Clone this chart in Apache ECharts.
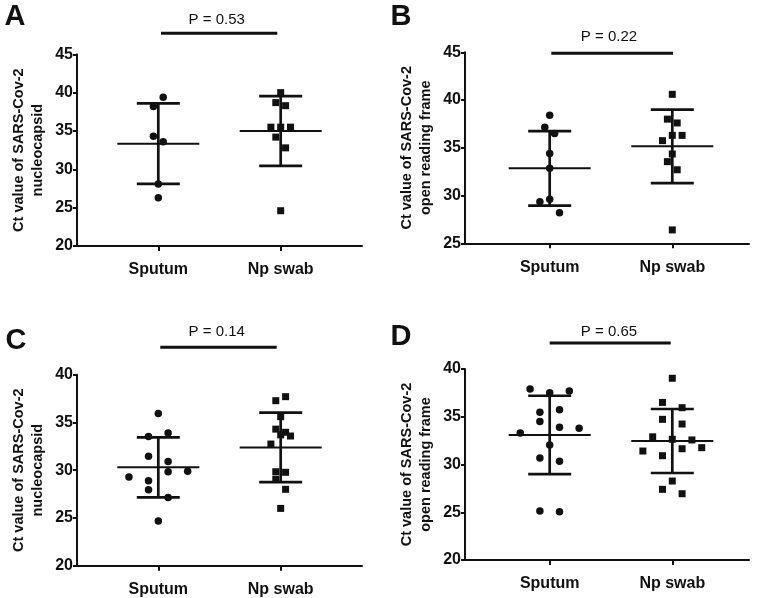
<!DOCTYPE html>
<html><head><meta charset="utf-8">
<script src="https://cdn.jsdelivr.net/npm/echarts@6/dist/echarts.min.js"></script>
<style>html,body{margin:0;padding:0;background:#fff}#c{width:758px;height:598px}</style>
</head><body><div id="c"></div>
<script>
// ---------- data ----------
const categories = ['Sputum', 'Np swab'];
const panelLetters = ['A', 'B', 'C', 'D'];
const pLabels = ['P = 0.53', 'P = 0.22', 'P = 0.14', 'P = 0.65'];
const yNames = [
  'Ct value of SARS-Cov-2\nnucleocapsid',
  'Ct value of SARS-Cov-2\nopen reading frame',
  'Ct value of SARS-Cov-2\nnucleocapsid',
  'Ct value of SARS-Cov-2\nopen reading frame'
];
const yMin = [20, 25, 20, 20];
const yMax = [45, 45, 40, 40];
const yInterval = 5;

// Panel A
const aSputum = [39.4, 38.2, 34.3, 33.6, 28.1, 26.3];
const aSputumCol = [1, -1, -1, 1, 0, 0];
const aNp = [40.0, 38.7, 38.3, 35.5, 35.5, 35.5, 34.2, 32.8, 24.6];
const aNpCol = [0, -1, 1, -2, 0, 2, -1, 1, 0];
const aMean = [33.35, 35.0];
const aSD = [5.25, 4.55];

// Panel B
const bSputum = [38.4, 37.15, 36.5, 34.4, 32.85, 29.6, 29.35, 28.2];
const bSputumCol = [0, -1, 1, 0, 0, 0, -2, 2];
const bNp = [40.6, 38.0, 37.6, 36.3, 36.3, 35.75, 34.35, 33.55, 32.7, 26.4];
const bNpCol = [0, -1, 1, 0, 2, -2, 0, -1, 1, 0];
const bMean = [32.85, 35.15];
const bSD = [3.9, 3.85];

// Panel C
const cSputum = [35.95, 33.54, 33.9, 31.45, 30.9, 29.3, 29.9, 29.85, 28.9, 27.96, 27.15, 24.68];
const cSputumCol = [0, -2, 2, -2, 2, -6, 6, 2, -2, -2, 2, 0];
const cNp = [37.7, 37.28, 35.6, 34.3, 33.97, 33.7, 33.58, 32.74, 29.84, 29.78, 29.05, 28.0, 26.0];
const cNpCol = [1, -1, 0, -1, 1, 0, 2, -2, -1, 1, -1, 1, 0];
const cMean = [30.3, 32.39];
const cSD = [3.14, 3.63];

// Panel D
const dSputum = [37.9, 37.52, 37.7, 35.46, 35.74, 34.49, 33.89, 33.79, 33.3, 32.04, 30.68, 30.33, 25.13, 25.06];
const dSputumCol = [-4, 0, 4, -2, 2, -2, 2, 6, -6, 0, -2, 2, -2, 2];
const dNp = [39.03, 36.5, 35.95, 34.73, 34.24, 32.9, 32.64, 32.57, 31.41, 30.92, 31.65, 31.76, 28.27, 27.4, 26.94];
const dNpCol = [0, -2, 2, -2, 2, -4, 0, 4, -6, -2, 2, 6, 0, -2, 2];
const dMean = [33.1, 32.46];
const dSD = [4.1, 3.35];

// ---------- layout ----------
const panels = [
  {sp: aSputum, spCol: aSputumCol, np: aNp, npCol: aNpCol, mean: aMean, sd: aSD},
  {sp: bSputum, spCol: bSputumCol, np: bNp, npCol: bNpCol, mean: bMean, sd: bSD},
  {sp: cSputum, spCol: cSputumCol, np: cNp, npCol: cNpCol, mean: cMean, sd: cSD},
  {sp: dSputum, spCol: dSputumCol, np: dNp, npCol: dNpCol, mean: dMean, sd: dSD}
];
const grids = [
  {left: 77, top: 54.3, width: 285, height: 191.7},
  {left: 465, top: 52.3, width: 284, height: 191},
  {left: 77, top: 374.7, width: 285, height: 191},
  {left: 465, top: 369, width: 284, height: 191}
];
const xRange = [[0.3356, 2.6644], [0.3092, 2.6256], [0.3356, 2.6644], [0.3092, 2.6256]];
const jitterStep = 0.04;
const letterPos = [[15, 17], [401, 17], [16, 341], [401, 336.5]];
const pPos = [[216.7, 20], [609, 36.5], [216.7, 332.3], [609, 331.8]];
const bracket = [[161, 277.3, 33.3], [551.3, 673, 53.3], [160.3, 276.7, 347.3], [549.7, 670.7, 343]];

const FONT = '"Liberation Sans", Arial, Helvetica, sans-serif';
const INK = '#111';

function renderErr(params, api) {
  const x = api.value(0), m = api.value(1), s = api.value(2);
  const c = api.coord([x, m]);
  const t = api.coord([x, m + s]);
  const b = api.coord([x, m - s]);
  const st = (w) => ({stroke: INK, lineWidth: w});
  return {type: 'group', children: [
    {type: 'line', shape: {x1: c[0] - 41, y1: c[1], x2: c[0] + 41, y2: c[1]}, style: st(2)},
    {type: 'line', shape: {x1: t[0] - 21.5, y1: t[1], x2: t[0] + 21.5, y2: t[1]}, style: st(2.7)},
    {type: 'line', shape: {x1: b[0] - 21.5, y1: b[1], x2: b[0] + 21.5, y2: b[1]}, style: st(2.7)},
    {type: 'line', shape: {x1: t[0], y1: t[1], x2: b[0], y2: b[1]}, style: st(2.7)}
  ]};
}

const xAxes = [], yAxes = [], series = [], graphics = [];
panels.forEach((p, i) => {
  xAxes.push({
    type: 'value', gridIndex: i, min: xRange[i][0], max: xRange[i][1],
    splitLine: {show: false},
    axisLine: {show: true, lineStyle: {color: INK, width: 2}},
    axisTick: {show: true, customValues: [1, 2], length: 5, lineStyle: {color: INK, width: 2}},
    axisLabel: {show: true, customValues: [1, 2], formatter: v => categories[Math.round(v) - 1],
      fontFamily: FONT, fontWeight: 'bold', fontSize: 16, color: INK, margin: 16}
  });
  yAxes.push({
    type: 'value', gridIndex: i, min: yMin[i], max: yMax[i], interval: yInterval,
    splitLine: {show: false},
    axisLine: {show: true, lineStyle: {color: INK, width: 2}},
    axisTick: {show: true, length: 4, lineStyle: {color: INK, width: 2}},
    axisLabel: {fontFamily: FONT, fontWeight: 'bold', fontSize: 16, color: INK, margin: 4},
    name: yNames[i], nameLocation: 'middle', nameRotate: 90, nameGap: 29,
    nameTextStyle: {fontFamily: FONT, fontWeight: 'bold', fontSize: 14.5, color: INK, lineHeight: 19.5, align: 'center'}
  });
  series.push({
    type: 'scatter', xAxisIndex: i, yAxisIndex: i, symbol: 'circle', symbolSize: 7.5,
    itemStyle: {color: INK, opacity: 1}, silent: true, z: 3,
    data: p.sp.map((v, k) => [1 + p.spCol[k] * jitterStep, v])
  });
  series.push({
    type: 'scatter', xAxisIndex: i, yAxisIndex: i, symbol: 'rect', symbolSize: 7,
    itemStyle: {color: INK, opacity: 1}, silent: true, z: 3,
    data: p.np.map((v, k) => [2 + p.npCol[k] * jitterStep, v])
  });
  series.push({
    type: 'custom', xAxisIndex: i, yAxisIndex: i, renderItem: renderErr, silent: true, z: 2,
    encode: {x: 0, y: 1},
    data: p.mean.map((m, k) => [k + 1, m, p.sd[k]])
  });
  graphics.push({
    type: 'text', x: letterPos[i][0], y: letterPos[i][1],
    style: {text: panelLetters[i], fill: INK, fontFamily: FONT, fontWeight: 'bold', fontSize: 29,
      textAlign: 'center', textVerticalAlign: 'middle'}
  });
  graphics.push({
    type: 'text', x: pPos[i][0], y: pPos[i][1],
    style: {text: pLabels[i], fill: INK, fontFamily: FONT, fontSize: 15,
      textAlign: 'center', textVerticalAlign: 'middle'}
  });
  graphics.push({
    type: 'line', shape: {x1: bracket[i][0], y1: bracket[i][2], x2: bracket[i][1], y2: bracket[i][2]},
    style: {stroke: INK, lineWidth: 3}
  });
});

const chart = echarts.init(document.getElementById('c'), null, {renderer: 'canvas'});
chart.setOption({
  backgroundColor: '#fff',
  animation: false,
  grid: grids,
  xAxis: xAxes,
  yAxis: yAxes,
  series: series,
  graphic: graphics
});
</script>
</body></html>
